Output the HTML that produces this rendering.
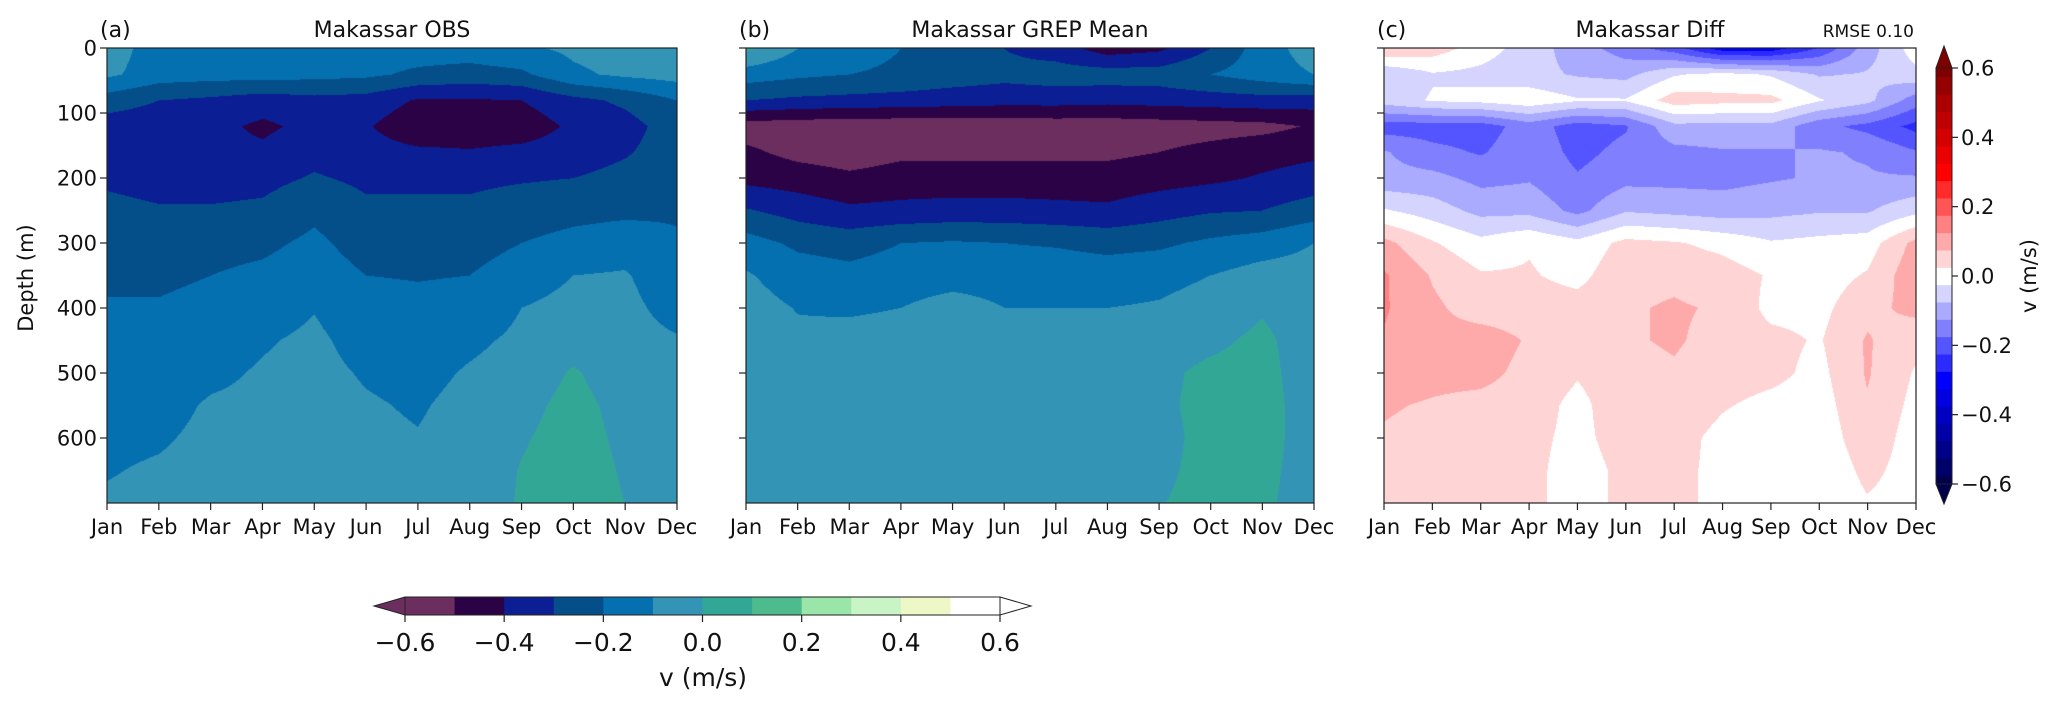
<!DOCTYPE html>
<html><head><meta charset="utf-8">
<style>
html,body{margin:0;padding:0;background:#fff;}
#root{position:relative;width:2067px;height:707px;overflow:hidden;font-family:"Liberation Sans","DejaVu Sans",sans-serif;}
canvas{position:absolute;}
svg{position:absolute;left:0;top:0;}
text{font-family:"DejaVu Sans","Liberation Sans",sans-serif;fill:#111;}
</style></head>
<body>
<div id="root">
<canvas id="cA"></canvas>
<canvas id="cB"></canvas>
<canvas id="cC"></canvas>
<svg id="ov" width="2067" height="707"></svg>
</div>
<script>
const months=["Jan","Feb","Mar","Apr","May","Jun","Jul","Aug","Sep","Oct","Nov","Dec"];
const depths=[0,40,80,120,160,200,250,300,350,400,450,500,550,600,650,700];
const depthTicks=[0,100,200,300,400,500,600];
const obsValues=[
[-0.05,-0.08,-0.25,-0.35,-0.36,-0.32,-0.27,-0.25,-0.22,-0.19,-0.17,-0.15,-0.13,-0.12,-0.105,-0.09],
[-0.15,-0.15,-0.30,-0.36,-0.37,-0.34,-0.29,-0.25,-0.22,-0.19,-0.17,-0.15,-0.13,-0.11,-0.09,-0.08],
[-0.15,-0.16,-0.32,-0.37,-0.37,-0.34,-0.29,-0.23,-0.20,-0.17,-0.15,-0.12,-0.09,-0.08,-0.07,-0.06],
[-0.15,-0.16,-0.35,-0.42,-0.38,-0.33,-0.28,-0.22,-0.18,-0.15,-0.11,-0.09,-0.08,-0.07,-0.06,-0.06],
[-0.15,-0.17,-0.33,-0.37,-0.33,-0.29,-0.22,-0.18,-0.15,-0.105,-0.08,-0.07,-0.06,-0.06,-0.05,-0.05],
[-0.15,-0.18,-0.34,-0.39,-0.36,-0.32,-0.28,-0.24,-0.20,-0.17,-0.14,-0.11,-0.09,-0.08,-0.07,-0.07],
[-0.15,-0.22,-0.41,-0.47,-0.38,-0.32,-0.28,-0.24,-0.205,-0.18,-0.15,-0.13,-0.11,-0.095,-0.09,-0.08],
[-0.15,-0.24,-0.41,-0.47,-0.39,-0.32,-0.28,-0.24,-0.20,-0.17,-0.12,-0.09,-0.07,-0.06,-0.06,-0.06],
[-0.12,-0.22,-0.40,-0.46,-0.37,-0.31,-0.25,-0.20,-0.15,-0.10,-0.08,-0.06,-0.03,-0.01,0.005,0.01],
[-0.08,-0.12,-0.33,-0.38,-0.35,-0.30,-0.23,-0.17,-0.10,-0.07,-0.04,0.01,0.03,0.04,0.05,0.05],
[-0.05,-0.08,-0.28,-0.34,-0.31,-0.27,-0.22,-0.15,-0.09,-0.07,-0.06,-0.05,-0.03,-0.02,-0.01,0.0],
[-0.05,-0.06,-0.20,-0.25,-0.25,-0.24,-0.21,-0.19,-0.17,-0.14,-0.09,-0.07,-0.06,-0.05,-0.05,-0.05]];
const grepValues=[
[0.02,-0.15,-0.30,-0.55,-0.48,-0.43,-0.29,-0.16,-0.09,-0.06,-0.05,-0.05,-0.05,-0.05,-0.05,-0.05],
[-0.10,-0.18,-0.32,-0.56,-0.53,-0.45,-0.34,-0.22,-0.15,-0.105,-0.08,-0.06,-0.06,-0.05,-0.05,-0.05],
[-0.15,-0.20,-0.33,-0.57,-0.55,-0.48,-0.38,-0.24,-0.17,-0.12,-0.05,-0.03,-0.03,-0.03,-0.03,-0.03],
[-0.20,-0.22,-0.34,-0.57,-0.52,-0.46,-0.37,-0.20,-0.15,-0.10,-0.04,-0.03,-0.03,-0.03,-0.02,-0.02],
[-0.25,-0.25,-0.35,-0.57,-0.52,-0.46,-0.36,-0.19,-0.14,-0.06,-0.04,-0.04,-0.05,-0.05,-0.05,-0.05],
[-0.30,-0.27,-0.36,-0.57,-0.52,-0.46,-0.36,-0.20,-0.14,-0.10,-0.07,-0.05,-0.03,-0.03,-0.03,-0.03],
[-0.35,-0.25,-0.36,-0.56,-0.52,-0.46,-0.37,-0.21,-0.14,-0.10,-0.07,-0.06,-0.05,-0.05,-0.05,-0.05],
[-0.45,-0.25,-0.37,-0.56,-0.52,-0.46,-0.38,-0.23,-0.15,-0.10,-0.06,-0.04,-0.04,-0.05,-0.05,-0.04],
[-0.42,-0.25,-0.36,-0.55,-0.50,-0.44,-0.34,-0.22,-0.13,-0.09,-0.04,-0.02,-0.02,-0.03,-0.02,-0.005],
[-0.30,-0.20,-0.35,-0.54,-0.47,-0.42,-0.31,-0.18,-0.10,-0.06,-0.02,0.02,0.03,0.03,0.03,0.03],
[-0.15,-0.15,-0.34,-0.53,-0.44,-0.39,-0.30,-0.15,-0.06,-0.01,0.02,0.03,0.04,0.04,0.03,0.02],
[-0.05,-0.10,-0.35,-0.49,-0.42,-0.36,-0.25,-0.10,-0.06,-0.05,-0.05,-0.05,-0.05,-0.05,-0.05,-0.05]];
const mainLevels=[-0.6,-0.5,-0.4,-0.3,-0.2,-0.1,0,0.1,0.2,0.3,0.4,0.5,0.6];
const mainTicks=[-0.6,-0.4,-0.2,0,0.2,0.4,0.6];
const diffTicks=[-0.6,-0.4,-0.2,0,0.2,0.4,0.6];
const rmseText="RMSE 0.10";

const mainColors=["#6b2e5e","#2c0246","#0b1e93","#044e8a","#0570b0","#3494b6","#33a796","#4dbb8e","#9ae6a8","#c9f4c5","#eef8c6","#ffffff"];
const diffValues=grepValues.map((row,i)=>row.map((v,j)=>v-obsValues[i][j]));

const Y0=48,Y1=503;
const panels=[
 {id:"cA",x0:107,x1:677,field:obsValues,cmap:"main",title:"Makassar OBS",tag:"(a)",name:"obs"},
 {id:"cB",x0:746,x1:1314,field:grepValues,cmap:"main",title:"Makassar GREP Mean",tag:"(b)",name:"grep"},
 {id:"cC",x0:1384,x1:1916,field:diffValues,cmap:"diff",title:"Makassar Diff",tag:"(c)",name:"diff"}];

function hex2rgb(h){return [parseInt(h.slice(1,3),16),parseInt(h.slice(3,5),16),parseInt(h.slice(5,7),16)];}
const mainRGB=mainColors.map(hex2rgb);
function seismic(v){
 let x=(v+0.6)/1.2; x=Math.max(0,Math.min(1,x));
 const st=[[0,[0,0,0.3]],[0.25,[0,0,1]],[0.5,[1,1,1]],[0.75,[1,0,0]],[1,[0.5,0,0]]];
 for(let k=0;k<4;k++){const a=st[k],b=st[k+1];if(x<=b[0]){const f=(x-a[0])/(b[0]-a[0]);return a[1].map((c,i)=>Math.round(255*(c+(b[1][i]-c)*f)));}}
 return [128,0,0];
}
function mainColor(v){let k=Math.floor((v+0.6)/0.1+1e-9);k=Math.max(0,Math.min(11,k));return mainRGB[k];}
function diffBin(v){return Math.max(-12,Math.min(12,Math.round(v/0.05)));}
function diffColor(v){if(v>0.6)return seismic(0.6);if(v<-0.6)return seismic(-0.6);return seismic(diffBin(v)*0.05);}

function valueAt(field,m,d){
 let i=Math.min(10,Math.max(0,Math.floor(m)));const fm=m-i;
 let j=0;while(j<depths.length-2&&d>depths[j+1])j++;
 const fd=Math.max(0,Math.min(1,(d-depths[j])/(depths[j+1]-depths[j])));
 const a=field[i][j],b=field[i+1][j],c=field[i][j+1],e=field[i+1][j+1];
 return (a*(1-fm)+b*fm)*(1-fd)+(c*(1-fm)+e*fm)*fd;
}
panels.forEach(p=>{
 const cv=document.getElementById(p.id);const w=p.x1-p.x0,h=Y1-Y0;
 cv.width=w;cv.height=h;cv.style.left=p.x0+"px";cv.style.top=Y0+"px";
 const ctx=cv.getContext("2d");const img=ctx.createImageData(w,h);
 for(let y=0;y<h;y++){const d=y/(h-1)*700;for(let x=0;x<w;x++){const m=x/(w-1)*11;const v=valueAt(p.field,m,d);
  const c=p.cmap==="main"?mainColor(v):diffColor(v);const o=(y*w+x)*4;img.data[o]=c[0];img.data[o+1]=c[1];img.data[o+2]=c[2];img.data[o+3]=255;}}
 ctx.putImageData(img,0,0);
});

const NS="http://www.w3.org/2000/svg";const ov=document.getElementById("ov");
function el(tag,attrs,txt){const e=document.createElementNS(NS,tag);for(const k in attrs)e.setAttribute(k,attrs[k]);if(txt!==undefined)e.textContent=txt;ov.appendChild(e);return e;}
function fmt(v){const s=Math.abs(v).toFixed(1);return v<-1e-9?"\u2212"+s:s;}
const yScale=d=>Y0+(d/700)*(Y1-Y0);

panels.forEach((p,pi)=>{
 const xScale=i=>p.x0+i/11*(p.x1-p.x0);
 let e=el("rect",{x:p.x0,y:Y0,width:p.x1-p.x0,height:Y1-Y0,fill:"none",stroke:"#222","stroke-width":1.2});
 
 
 e=el("text",{x:(p.x0+p.x1)/2,y:37,"font-size":22,"text-anchor":"middle"},p.title);
 
 
 e=el("text",{x:p.x0-7,y:37,"font-size":22},p.tag);
 
 
 months.forEach((mn,i)=>{
  const x=xScale(i);
  e=el("line",{x1:x,x2:x,y1:Y1,y2:Y1+7,stroke:"#222","stroke-width":1.2});
  
  
  e=el("text",{x:x,y:Y1+31,"font-size":21,"text-anchor":"middle"},mn);
  
  
 });
 depthTicks.forEach(d=>{
  const y=yScale(d);
  e=el("line",{x1:p.x0-7,x2:p.x0,y1:y,y2:y,stroke:"#222","stroke-width":1.2});
  
  
  if(pi===0){e=el("text",{x:p.x0-10,y:y+7.5,"font-size":21,"text-anchor":"end"},String(d));
   
   }
 });
});
let t=el("text",{x:0,y:0,"font-size":21,"text-anchor":"middle",transform:"translate(33,278) rotate(-90)"},"Depth (m)");


t=el("text",{x:1914,y:37,"font-size":17,"text-anchor":"end"},rmseText);



// bottom colorbar
const bx0=405,bx1=1000,by0=597,by1=615;
const bS=v=>bx0+(v+0.6)/1.2*(bx1-bx0);
for(let k=0;k<mainColors.length;k++){
 const r=el("rect",{x:bS(mainLevels[k]),y:by0,width:bS(mainLevels[k+1])-bS(mainLevels[k])+0.5,height:by1-by0,fill:mainColors[k]});
 
 
}
t=el("polygon",{points:`${bx0},${by0} ${bx0-31},${(by0+by1)/2} ${bx0},${by1}`,fill:mainColors[0],stroke:"#222","stroke-width":1});


t=el("polygon",{points:`${bx1},${by0} ${bx1+31},${(by0+by1)/2} ${bx1},${by1}`,fill:"#ffffff",stroke:"#222","stroke-width":1});


t=el("rect",{x:bx0,y:by0,width:bx1-bx0,height:by1-by0,fill:"none",stroke:"#222","stroke-width":1});


mainTicks.forEach(v=>{
 let e=el("line",{x1:bS(v),x2:bS(v),y1:by1,y2:by1+7,stroke:"#222","stroke-width":1.2});
 
 
 e=el("text",{x:bS(v),y:by1+36,"font-size":25,"text-anchor":"middle"},fmt(v));
 
 
});
t=el("text",{x:703,y:686,"font-size":25,"text-anchor":"middle"},"v (m/s)");



// right diff colorbar
const rx0=1936,rx1=1952,ry0=68,ry1=484;
const rS=v=>ry1-(v+0.6)/1.2*(ry1-ry0);
for(let k=-12;k<=12;k++){
 const lo=Math.max(-0.6,k*0.05-0.025),hi=Math.min(0.6,k*0.05+0.025);const c=seismic(k*0.05);
 const r=el("rect",{x:rx0,y:rS(hi),width:rx1-rx0,height:rS(lo)-rS(hi)+0.5,fill:`rgb(${c[0]},${c[1]},${c[2]})`});
 
 
}
const cHi=seismic(0.6),cLo=seismic(-0.6);
t=el("polygon",{points:`${rx0},${ry0} ${(rx0+rx1)/2},${ry0-22} ${rx1},${ry0}`,fill:`rgb(${cHi})`,stroke:"#222","stroke-width":1});


t=el("polygon",{points:`${rx0},${ry1} ${(rx0+rx1)/2},${ry1+20} ${rx1},${ry1}`,fill:`rgb(${cLo})`,stroke:"#222","stroke-width":1});


t=el("rect",{x:rx0,y:ry0,width:rx1-rx0,height:ry1-ry0,fill:"none",stroke:"#222","stroke-width":1});


diffTicks.forEach(v=>{
 let e=el("line",{x1:rx1,x2:rx1+6,y1:rS(v),y2:rS(v),stroke:"#222","stroke-width":1.2});
 
 
 e=el("text",{x:rx1+9,y:rS(v)+7.5,"font-size":21},fmt(v));
 
 
});
t=el("text",{x:0,y:0,"font-size":21,"text-anchor":"middle",transform:"translate(2036,276) rotate(-90)"},"v (m/s)");


</script>
</body></html>
